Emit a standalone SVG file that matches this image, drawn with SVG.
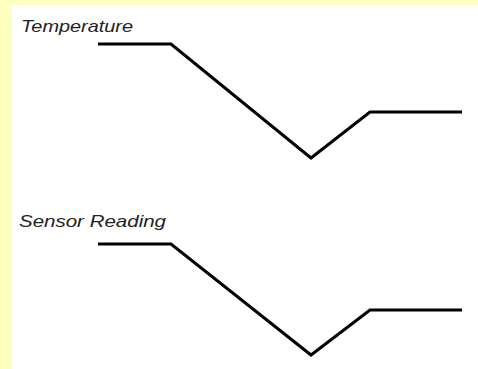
<svg xmlns="http://www.w3.org/2000/svg" width="478" height="369" viewBox="0 0 478 369">
<style>
.lbl{font-family:"Liberation Sans",Arial,sans-serif;font-style:italic;font-size:17px;fill:#222}
.sig{fill:none;stroke:#000;stroke-width:3;stroke-linejoin:miter}
</style>
<rect x="0" y="0" width="478" height="369" fill="#FFFFC0"/>
<rect x="12" y="5" width="466" height="364" fill="#FFFFFF"/>
<g id="temperature">
<text class="lbl" x="21" y="32" textLength="112" lengthAdjust="spacingAndGlyphs">Temperature</text>
</g>
<g id="sensor-reading">
<text class="lbl" x="19" y="227" textLength="147" lengthAdjust="spacingAndGlyphs">Sensor Reading</text>
</g>
<g id="connectors">
<polyline class="sig" points="98,44 171,44 311,158 370,112 462,112"/>
<polyline class="sig" points="98,244 171,244 311,355 370,310 462,310"/>
</g>
</svg>
